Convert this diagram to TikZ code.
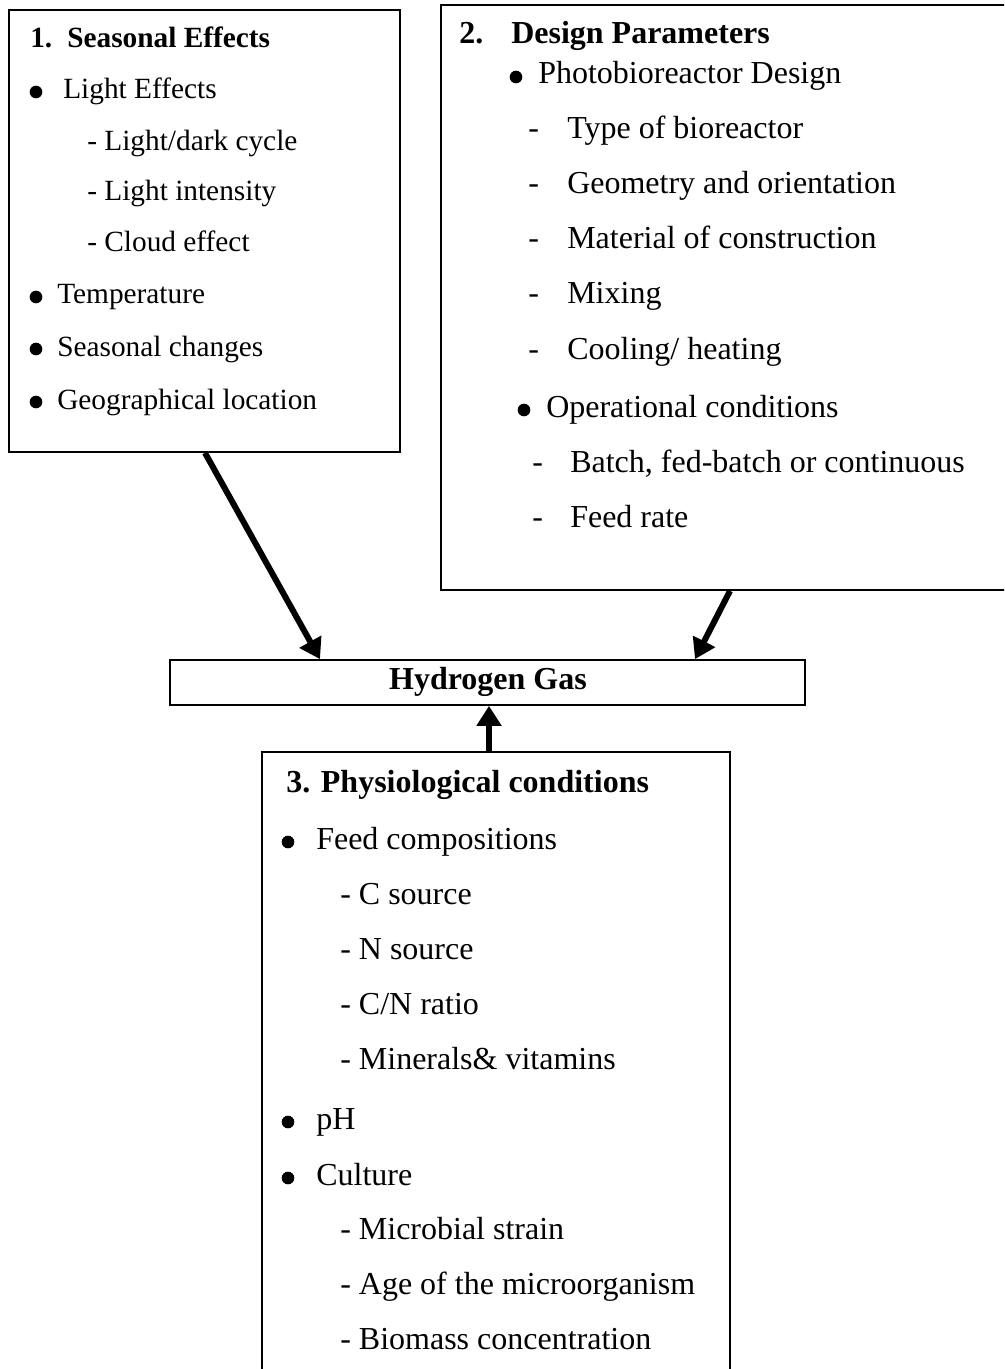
\documentclass[tikz,border=0pt]{standalone}
\usepackage{fontspec}
\setmainfont{Liberation Serif}
\usetikzlibrary{arrows.meta,fit}
\begin{document}
\begin{tikzpicture}[x=0.75pt,y=-0.75pt,
  box/.style={draw=black,line width=1.3pt,inner sep=0pt},
  ta/.style={anchor=base west,inner sep=0pt,font=\fontsize{22}{26}\selectfont},
  tb/.style={anchor=base west,inner sep=0pt,font=\fontsize{24}{28}\selectfont},
  hb/.style={anchor=base west,inner sep=0pt,font=\fontsize{22}{26}\selectfont\bfseries},
  hc/.style={anchor=base west,inner sep=0pt,font=\fontsize{24}{28}\selectfont\bfseries},
  dot/.style={circle,fill=black,inner sep=0pt,minimum size=9.5pt},
  arr/.style={line width=4.5pt,-{Triangle[length=15pt,width=18pt]}}]
\useasboundingbox (0,0) rectangle (1004,1369);
\clip (0,0) rectangle (1004,1369);
% boxes
\coordinate (b1a) at (9,10);   \coordinate (b1b) at (400,452);
\coordinate (b2a) at (441,5);  \coordinate (b2b) at (1020,590);
\coordinate (b3a) at (262,752); \coordinate (b3b) at (730,1390);
\coordinate (hga) at (170,660); \coordinate (hgb) at (805,705);
\node[box,fit=(b1a)(b1b)] (b1) {};
\node[box,fit=(b2a)(b2b)] (b2) {};
\node[box,fit=(b3a)(b3b)] (b3) {};
\node[box,fit=(hga)(hgb)] (hg) {};
\node[hc,anchor=base] (hgt) at (488,689) {Hydrogen Gas};
% box 1
\node[hb] (s1n) at (30,48) {1.};
\node[hb] (s1t) at (67,48) {Seasonal Effects};
\node[dot] (s1b1) at (36,92) {};
\node[ta] (s1i1) at (63,99) {Light Effects};
\node[ta] (s1d1) at (87,151) {- Light/dark cycle};
\node[ta] (s1d2) at (87,201) {- Light intensity};
\node[ta] (s1d3) at (87,252) {- Cloud effect};
\node[dot] (s1b2) at (36,297) {};
\node[ta] (s1i2) at (57,304) {Temperature};
\node[dot] (s1b3) at (36,349) {};
\node[ta] (s1i3) at (57,356) {Seasonal changes};
\node[dot] (s1b4) at (36,402) {};
\node[ta] (s1i4) at (57,409) {Geographical location};
% box 2
\node[hc] (s2n) at (459,44) {2.};
\node[hc] (s2t) at (511,44) {Design Parameters};
\node[dot] (s2b1) at (516,77) {};
\node[tb] (s2i1) at (538,84) {Photobioreactor Design};
\node[tb] (s2d1) at (528,139) {-};
\node[tb] (s2e1) at (567,139) {Type of bioreactor};
\node[tb] (s2d2) at (528,194) {-};
\node[tb] (s2e2) at (567,194) {Geometry and orientation};
\node[tb] (s2d3) at (528,249) {-};
\node[tb] (s2e3) at (567,249) {Material of construction};
\node[tb] (s2d4) at (528,304) {-};
\node[tb] (s2e4) at (567,304) {Mixing};
\node[tb] (s2d5) at (528,359) {-};
\node[tb] (s2e5) at (567,359) {Cooling/ heating};
\node[dot] (s2b2) at (524,410) {};
\node[tb] (s2i2) at (546,417) {Operational conditions};
\node[tb] (s2d6) at (532,472) {-};
\node[tb] (s2e6) at (570,472) {Batch, fed-batch or continuous};
\node[tb] (s2d7) at (532,527) {-};
\node[tb] (s2e7) at (570,527) {Feed rate};
% box 3
\node[hc] (s3t) at (286,792) {3. Physiological conditions};
\node[dot] (s3b1) at (288,842) {};
\node[tb] (s3i1) at (316,849) {Feed compositions};
\node[tb] (s3d1) at (340,904) {- C source};
\node[tb] (s3d2) at (340,959) {- N source};
\node[tb] (s3d3) at (340,1014) {- C/N ratio};
\node[tb] (s3d4) at (340,1069) {- Minerals\& vitamins};
\node[dot] (s3b2) at (288,1122) {};
\node[tb] (s3i2) at (316,1129) {pH};
\node[dot] (s3b3) at (288,1178) {};
\node[tb] (s3i3) at (316,1185) {Culture};
\node[tb] (s3d5) at (340,1239) {- Microbial strain};
\node[tb] (s3d6) at (340,1294) {- Age of the microorganism};
\node[tb] (s3d7) at (340,1349) {- Biomass concentration};
% arrows
\coordinate (x1) at (205,0); \coordinate (x2) at (320,0);
\coordinate (x3) at (730,0); \coordinate (x4) at (695,0);
\coordinate (x5) at (489,0);
\draw[arr] (b1.south -| x1) -- (hg.north -| x2);
\draw[arr] (b2.south -| x3) -- (hg.north -| x4);
\draw[arr] (b3.north -| x5) -- (hg.south -| x5);
\end{tikzpicture}
\end{document}
